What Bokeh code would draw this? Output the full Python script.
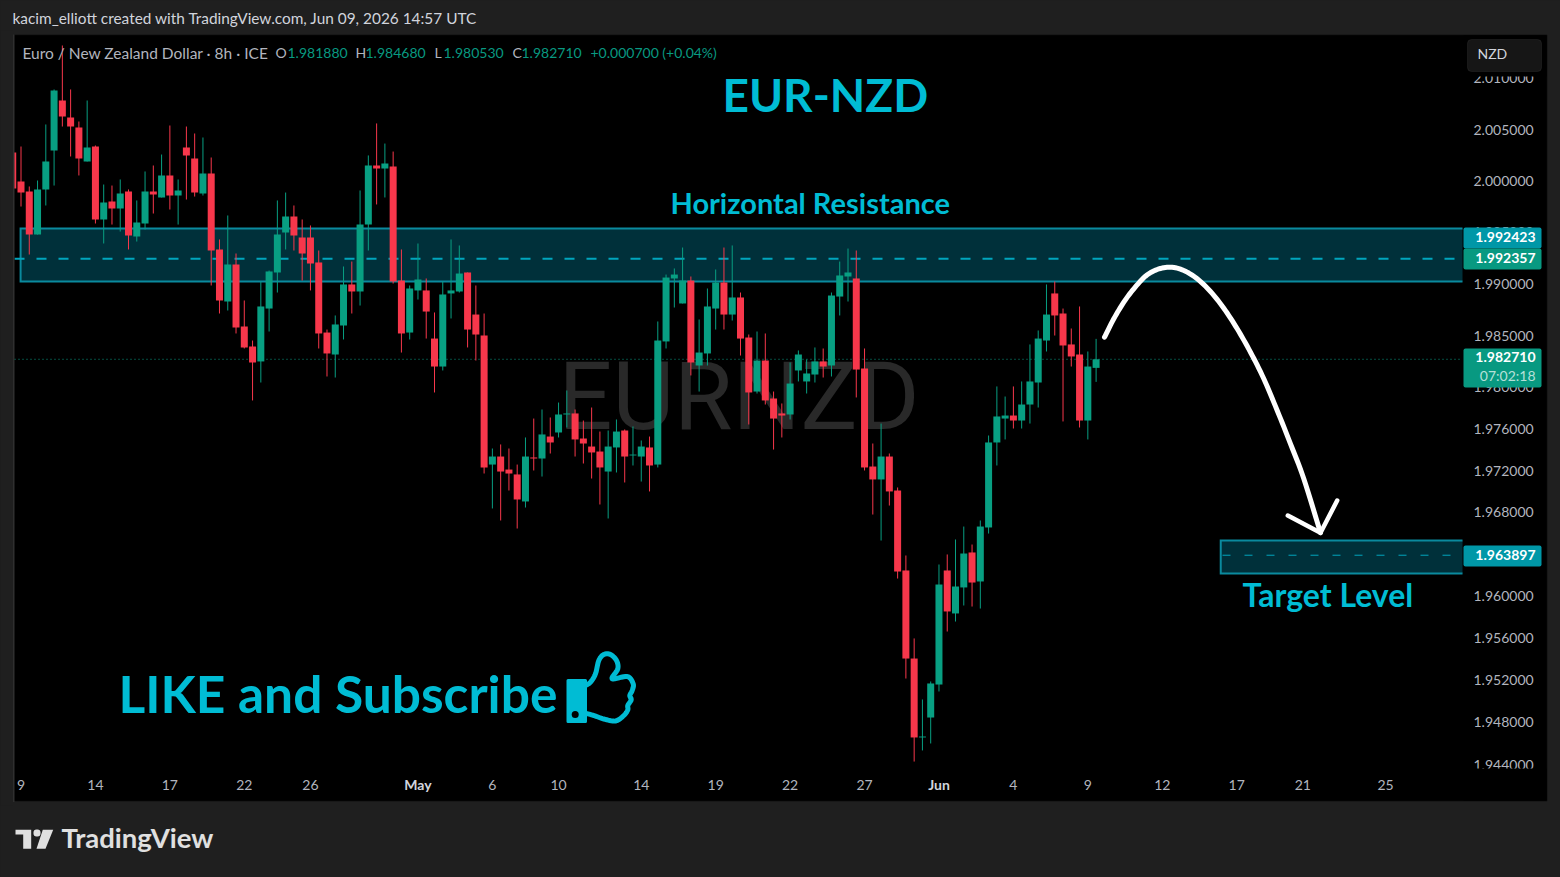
import math
from bokeh.plotting import figure
from bokeh.models import (Range1d, FixedTicker, NumeralTickFormatter, Label, BoxAnnotation,
                          PolyAnnotation, ColumnDataSource)
from bokeh.embed import file_html
from bokeh.resources import INLINE

# 8h candles of EUR/NZD, index -1 is the one cut off by the left edge
open_ = [2.00276,1.99993,1.99896,1.99478,1.99916,2.00295,2.00783,2.00617,2.00520,2.00188,2.00334,
 1.99624,1.99799,1.99731,1.99896,1.99459,1.99585,1.99896,1.99838,2.00052,1.99857,2.00324,2.00217,1.99877,2.00071,
 1.99333,1.98829,1.99187,1.98587,1.98394,1.98250,1.98761,1.99110,
 1.99498,1.99653,1.99449,1.99449,1.99207,1.98529,1.98317,1.98597,1.98994,1.98926,1.99575,2.00149,2.00120,2.00139,
 1.99032,1.98529,1.98936,1.98936,1.98471,1.98201,1.98907,1.98926,1.99110,1.98703,1.98500,1.97258,1.97335,1.97210,1.97163,
 1.96904,1.97326,1.97316,1.97527,1.97566,1.97739,1.97749,1.97508,1.97431,1.97383,1.97191,1.97422,1.97585,1.97345,1.97335,1.97422,1.97258,
 1.98443,1.99052,1.98810,1.99032,1.98211,1.98327,1.98761,1.99013,1.98703,1.98868,1.98481,1.97960,1.98259,1.97893,1.97749,1.97739,
 1.98163,1.98057,1.98124,1.98250,1.98211,1.98877,1.99071,1.99052,1.98182,1.97239,1.97115,1.97335,1.97009,1.96244,1.95405,1.94656,
 1.94845,1.95158,1.96244,1.95834,1.96082,1.96416,1.96139,1.96655,1.97470,1.97700,1.97729,1.97681,1.97835,1.98047,1.98452,1.98907,
 1.98713,1.98414,1.98317,1.97681,1.98188]
high = [2.00276,2.00334,1.99945,2.00003,2.00549,2.00891,2.01321,2.00891,2.00578,2.00783,2.00344,
 1.99964,1.99954,2.00013,1.99916,1.99809,2.00091,2.00149,2.00256,2.00539,2.00013,2.00529,2.00461,2.00422,2.00227,
 1.99430,1.99663,1.99294,1.98839,1.98452,1.99023,1.99129,1.99809,
 1.99886,1.99760,1.99624,1.99566,1.99323,1.98558,1.98694,1.99168,1.99216,1.99906,2.00247,2.00559,2.00363,2.00285,
 1.99333,1.98984,1.99391,1.99052,1.98723,1.99023,1.99430,1.99372,1.99110,1.98984,1.98713,1.97412,1.97451,1.97412,1.97258,
 1.97518,1.97700,1.97787,1.97710,1.97854,1.97970,1.97787,1.97681,1.97806,1.97575,1.97585,1.97691,1.97595,1.97624,1.97489,1.97527,1.98636,
 1.99090,1.99149,1.99352,1.99071,1.98655,1.98955,1.99139,1.99352,1.99372,1.98916,1.98510,1.98539,1.98520,1.97960,1.97845,1.98240,
 1.98356,1.98269,1.98385,1.98375,1.98916,1.99216,1.99342,1.99323,1.98375,1.97460,1.97652,1.97364,1.97038,1.96387,1.95596,1.95016,
 1.95187,1.96301,1.96397,1.96540,1.96664,1.96492,1.96722,1.97537,1.98009,1.97912,1.98009,1.98057,1.98414,1.98549,1.98994,1.99023,
 1.98761,1.98568,1.98781,1.98346,1.98468]
low = [1.99925,1.99750,1.99284,1.99478,1.99760,1.99954,2.00529,2.00237,2.00052,2.00188,1.99585,
 1.99391,1.99575,1.99507,1.99333,1.99410,1.99527,1.99682,1.99838,1.99721,1.99575,1.99818,1.99847,1.99857,1.98984,
 1.98713,1.98742,1.98520,1.98375,1.97874,1.98047,1.98539,1.98916,
 1.99333,1.99323,1.99032,1.98936,1.98375,1.98105,1.98095,1.98462,1.98713,1.98790,1.99323,1.99770,1.99838,1.99003,
 1.98336,1.98462,1.98848,1.98471,1.97951,1.98163,1.98665,1.98916,1.98385,1.98259,1.97172,1.96837,1.96722,1.97009,1.96645,
 1.96846,1.97201,1.97143,1.97364,1.97518,1.97614,1.97335,1.97268,1.97124,1.96875,1.96741,1.97182,1.97086,1.97249,1.97095,1.97000,1.97230,
 1.98375,1.98771,1.98810,1.98115,1.97960,1.98211,1.98558,1.98558,1.98645,1.98307,1.97643,1.97941,1.97835,1.97402,1.97518,1.97691,
 1.98057,1.97941,1.98047,1.98095,1.98105,1.98694,1.98829,1.97903,1.97201,1.96779,1.96530,1.96865,1.96167,1.95215,1.94428,1.94533,
 1.94599,1.95092,1.95662,1.95757,1.95910,1.95900,1.95881,1.96597,1.97249,1.97499,1.97604,1.97604,1.97652,1.97806,1.98346,1.98500,
 1.97672,1.98201,1.97614,1.97499,1.98053]
close = [1.99925,1.99886,1.99478,1.99916,2.00188,2.00881,2.00627,2.00529,2.00217,2.00324,1.99624,
 1.99789,1.99731,1.99877,1.99469,1.99595,1.99896,1.99867,2.00052,1.99857,1.99906,2.00247,1.99886,2.00071,1.99323,
 1.98839,1.99187,1.98578,1.98385,1.98240,1.98781,1.99120,1.99478,
 1.99653,1.99469,1.99294,1.99197,1.98520,1.98327,1.98607,1.98994,1.98926,1.99575,2.00149,2.00120,2.00169,1.99023,
 1.98520,1.98955,1.99042,1.98732,1.98201,1.98897,1.98936,1.99100,1.98558,1.98510,1.97230,1.97335,1.97191,1.97172,1.96923,
 1.97335,1.97316,1.97547,1.97470,1.97739,1.97749,1.97499,1.97460,1.97374,1.97230,1.97431,1.97575,1.97335,1.97354,1.97431,1.97249,1.98452,
 1.99061,1.99090,1.99032,1.98240,1.98336,1.98781,1.99013,1.98703,1.98868,1.98471,1.97951,1.98259,1.97874,1.97700,1.97729,1.98037,
 1.98317,1.98134,1.98250,1.98201,1.98887,1.99081,1.99110,1.98172,1.97230,1.97115,1.97335,1.97000,1.96234,1.95405,1.94656,1.94665,
 1.95168,1.96110,1.95853,1.96091,1.96406,1.96129,1.96664,1.97470,1.97720,1.97729,1.97681,1.97835,1.98057,1.98471,1.98703,1.98694,
 1.98404,1.98298,1.97681,1.98201,1.98271]

price_ticks = [2.010, 2.005, 2.000, 1.995, 1.990, 1.985, 1.980, 1.976, 1.972, 1.968, 1.964, 1.960, 1.956, 1.952, 1.948, 1.944]
date_ticks = [0, 9, 18, 27, 35, 48, 57, 65, 75, 84, 93, 102, 111, 120, 129, 138, 147, 155, 165]
date_labels = ["9", "14", "17", "22", "26", "May", "6", "10", "14", "19", "22", "27", "Jun", "4", "9", "12", "17", "21", "25"]

resistance_top, resistance_bottom, resistance_mid = 1.99537, 1.99023, 1.992423
target_top, target_bottom, target_mid = 1.96531, 1.96215, 1.963897
target_start = 145.07
resistance_start = -0.05

UP, DOWN = "#089f82", "#f7374b"
TEAL, TEAL_LINE, TEAL_FILL, TEAL_TEXT = "#0097a7", "#0a8a9e", "#00303a", "#00bcd4"
BG, EDGE, TXT, FONT = "#1f1f1f", "#2f2f2f", "#b2b5be", "Lato"

X0, DX = 20.5, 8.27
K = 20553.0
def X(px): return (px - X0) / DX
def Y(py): return 2.005 * math.exp(-(py - 129) / K)

p = figure(width=1560, height=877, output_backend="svg", toolbar_location=None,
           y_axis_type="log", y_axis_location="right",
           x_range=Range1d(X(0), X(1560)), y_range=Range1d(Y(877), Y(0)),
           min_border_left=0, min_border_right=0, min_border_top=0, min_border_bottom=0,
           background_fill_color=BG, border_fill_color=BG, outline_line_color=None)
p.grid.visible = False

def cbox(l, t, r, b, **kw):
    b_ = BoxAnnotation(left=l, right=r, top=t, bottom=b, left_units="canvas", right_units="canvas",
                       top_units="canvas", bottom_units="canvas", **kw)
    p.add_layout(b_)
    return b_

def lab(text, x, y, size, color=TXT, style="normal", align="left", font=FONT, level="annotation"):
    p.add_layout(Label(x=x, y=y-2, x_units="canvas", y_units="canvas", text=text, text_font=font,
                       text_font_size=size, text_color=color, text_font_style=style, text_align=align,
                       text_baseline="middle", level=level))

# panel behind the chart
cbox(13, 34, 1547, 801, fill_color="#000000", fill_alpha=1, line_color=EDGE, line_width=1.5, level="underlay")

# axes, held at the edges of the price pane
ax = p.yaxis[0]
ax.fixed_location = X(1462)
ax.ticker = FixedTicker(ticks=price_ticks)
ax.formatter = NumeralTickFormatter(format="0.000000")
ax.axis_line_color = None; ax.major_tick_line_color = None; ax.minor_tick_line_color = None
ax.major_label_text_color = TXT; ax.major_label_text_font = FONT; ax.major_label_text_font_size = "14px"
ax.major_label_standoff = 5
bx = p.xaxis[0]
bx.fixed_location = Y(768)
bx.ticker = FixedTicker(ticks=date_ticks)
bx.major_label_overrides = {t: ("" if l in ("May", "Jun") else l) for t, l in zip(date_ticks, date_labels)}
bx.axis_line_color = None; bx.major_tick_line_color = None; bx.minor_tick_line_color = None
bx.major_label_text_color = TXT; bx.major_label_text_font = FONT; bx.major_label_text_font_size = "14px"
bx.major_label_standoff = 5
for t, l in zip(date_ticks, date_labels):
    if l in ("May", "Jun"):
        p.add_layout(Label(x=t, y=784, x_units="data", y_units="canvas", text=l, text_font=FONT, text_font_size="14px",
                           text_font_style="bold", text_color="#d1d4dc", text_align="center", text_baseline="middle"))

# watermark
lab("EURNZD", 558, 398, "95px", "#292929", font="Roboto", level="underlay")

# zones: fill, then the three visible edges
xmax = X(1462)
for left, top, bottom in [(resistance_start, resistance_top, resistance_bottom), (target_start, target_top, target_bottom)]:
    p.quad(left=[left], right=[xmax], top=[top], bottom=[bottom], fill_color=TEAL_FILL, line_color=None)
    p.line([xmax, left, left, xmax], [top, top, bottom, bottom], line_color=TEAL_LINE, line_width=2, line_join="miter")
p.line([X(14), xmax], [resistance_mid]*2, line_color="#00a5bd", line_width=2, line_dash="10 12")
p.line([X(1222), xmax-0.8], [target_mid]*2, line_color="#00a5bd", line_width=1, line_dash="8 14")
p.line([X(14), xmax], [close[-1]]*2, line_color="#089981", line_width=1, line_dash="1 3")

# candles
idx = list(range(-1, len(open_)-1))
colors = [UP if c >= o else DOWN for o, c in zip(open_, close)]
src = ColumnDataSource(dict(x=idx, o=open_, h=high, l=low, c=close, col=colors,
                            top=[max(a, b) for a, b in zip(open_, close)],
                            bot=[min(a, b) for a, b in zip(open_, close)]))
p.segment("x", "h", "x", "l", source=src, line_color="col", line_width=1)
p.vbar(x="x", width=7/DX, top="top", bottom="bot", source=src, fill_color="col", line_color=None)

def smooth(xs, ys, n=8):
    ox, oy = [], []
    px_ = [xs[0]] + list(xs) + [xs[-1]]
    py_ = [ys[0]] + list(ys) + [ys[-1]]
    for i in range(1, len(px_)-2):
        for j in range(n):
            t = j/n
            f = lambda a: 0.5*(2*a[i] + (a[i+1]-a[i-1])*t + (2*a[i-1]-5*a[i]+4*a[i+1]-a[i+2])*t*t
                               + (3*a[i]-a[i-1]-3*a[i+1]+a[i+2])*t*t*t)
            ox.append(f(px_)); oy.append(f(py_))
    ox.append(xs[-1]); oy.append(ys[-1])
    return ox, oy

# arrow drawn on the chart
arrow_x = [1104,1113.3,1123.3,1133.3,1145,1156.7,1170,1183.3,1196.7,1210,1223.3,1236.7,1250,1263.3,1276.7,1290,1303.3,1320]
arrow_y = [336.7,318.3,301.7,288.3,275.7,269,266.7,270,278.3,291,307.7,328.3,351.7,378.3,410,443.3,478.3,532.3]
ox, oy = smooth(arrow_x, arrow_y)
p.line([X(v) for v in ox], [Y(v) for v in oy], line_color="white", line_width=5, line_cap="round", line_join="round")
p.line([X(v) for v in (1287.3,1320,1336.7)], [Y(v) for v in (515,532.3,500)], line_color="white", line_width=4.5, line_cap="round", line_join="round")

# thumb icon
cuff_x = [567.5,585,585,567.5]
cuff_y = [680,680,721,721]
p.patch([X(v) for v in cuff_x], [Y(v) for v in cuff_y], fill_color=TEAL_TEXT, line_color=TEAL_TEXT, line_width=3, line_join="round")
thumb_x = [585,590,595,598.3,603.3,610,616,617.3,611.7,626.7,632.7,631.7,629.3,630.7,627.3,627.3,623.3,615,603.3,593.3,585]
thumb_y = [685,681.7,673.3,660,654,654,660,668.3,678.3,676,683.3,690,695,699.3,705,709.3,715,720.5,718.5,715,712.7]
ox, oy = smooth(thumb_x, thumb_y)
p.line([X(v) for v in ox], [Y(v) for v in oy], line_color=TEAL_TEXT, line_width=5, line_join="round", line_cap="round")
p.scatter([X(574.7)], [Y(714)], marker="circle", size=7, fill_color="#000000", line_color=None)

# overlay texts
lab("EUR-NZD", 722, 96, "46px", TEAL_TEXT, "bold")
lab("Horizontal Resistance", 670, 204, "29px", TEAL_TEXT, "bold")
lab("Target Level", 1242, 596, "32px", TEAL_TEXT, "bold")
lab("LIKE and Subscribe", 118, 694, "51.5px", TEAL_TEXT, "bold")

# left edge keeps the cut candle inside the pane
cbox(0, 30, 12.5, 805, fill_color=BG, fill_alpha=1, line_color=None)
cbox(12.5, 34, 14, 801.5, fill_color=EDGE, fill_alpha=1, line_color=None)

# header / legend
lab("kacim_elliott created with TradingView.com, Jun 09, 2026 14:57 UTC", 12, 19, "15.4px", "#d1d4dc")
lab("Euro / New Zealand Dollar \u00b7 8h \u00b7 ICE", 22, 54, "15.5px", TXT)
G = "#089981"
for txt, x, col in [("O",275,TXT),("1.981880",287,G),("H",355,TXT),("1.984680",365,G),("L",434,TXT),("1.980530",443,G),
                    ("C",512,TXT),("1.982710",521,G),("+0.000700 (+0.04%)",590,G)]:
    lab(txt, x, 54, "14px", col)

# masks that cut the outer price labels
cbox(1463, 35, 1546, 76, fill_color="#000000", fill_alpha=1, line_color=None)
cbox(1463, 768, 1546, 800, fill_color="#000000", fill_alpha=1, line_color=None)
cbox(1467, 39, 1541, 71, fill_color="#161616", fill_alpha=1, line_color="#3a3a3a", line_width=1, border_radius=4)
lab("NZD", 1477, 55, "14px", "#d1d4dc")

# price tags
tag = lambda t, b, col: cbox(1463, t, 1541, b, fill_color=col, fill_alpha=1, line_color=None, border_radius=2)
tag(227, 248, TEAL); tag(248, 269, G)
tag(348, 387, G); tag(545, 566, TEAL)
lab("1.992423", 1535, 238, "14px", "white", "bold", "right")
lab("1.992357", 1535, 259, "14px", "white", "bold", "right")
lab("1.982710", 1535, 358, "14px", "white", "bold", "right")
lab("07:02:18", 1535, 377, "14px", "#b5e0d8", "normal", "right")
lab("1.963897", 1535, 556, "14px", "white", "bold", "right")

# TradingView mark
p.add_layout(PolyAnnotation(xs=[15,30.7,30.7,22.7,22.7,15], ys=[829.3,829.3,848.3,848.3,834,834],
                            xs_units="canvas", ys_units="canvas", fill_color="#e0e0e0", fill_alpha=1, line_color=None))
p.add_layout(PolyAnnotation(xs=[42.3,52.7,45,36], ys=[829.3,829.3,848.3,848.3],
                            xs_units="canvas", ys_units="canvas", fill_color="#e0e0e0", fill_alpha=1, line_color=None))
cbox(33, 829, 40, 836, fill_color="#e0e0e0", fill_alpha=1, line_color=None, border_radius=3)
lab("TradingView", 61, 839, "27.5px", "#e0e0e0", "bold")

html = file_html(p, INLINE)
html = html.replace("<body>", '<body style="background:%s;overflow:hidden">' % BG)
open("out.html", "w").write(html)
